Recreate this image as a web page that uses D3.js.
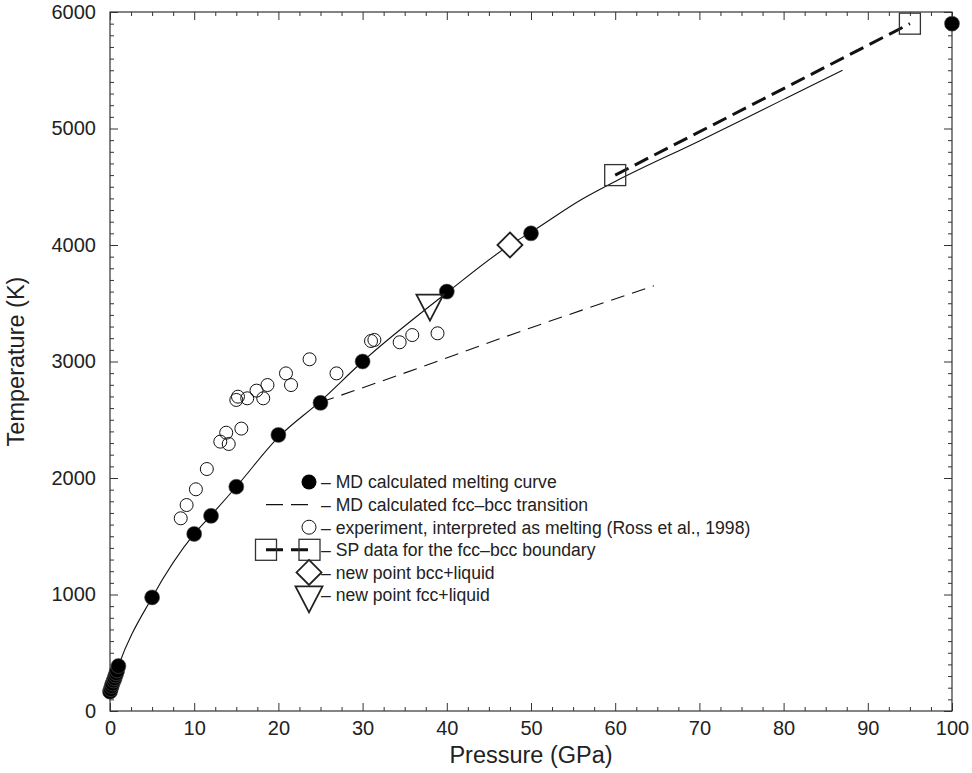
<!DOCTYPE html>
<html>
<head>
<meta charset="utf-8">
<script src="https://cdn.jsdelivr.net/npm/d3@7/dist/d3.min.js"></script>
<style>
    body { margin: 0; background: #fff; }
    svg text { font-family: "Liberation Sans", Arial, Helvetica, sans-serif; fill: #222; }
</style>
</head>
<body>
<div id="chart"></div>
<script>

// MD calculated melting points [pressure GPa, temperature K]
const mdPressure = [0, 0.1, 0.2, 0.3, 0.45, 0.55, 0.65, 0.75, 0.85, 1.0, 5, 10, 12, 15, 20, 25, 30, 40, 50, 100];
const mdTemp = [166, 188, 214, 236, 262, 282, 305, 325, 348, 386, 975, 1520, 1675, 1925, 2370, 2645, 3000, 3600, 4100, 5900];

// melting curve line
const curvePressure = [0, 0.5, 1, 5, 10, 12, 15, 20, 25, 30, 40, 47.5, 50, 56, 60, 70, 80, 87];
const curveTemp = [160, 280, 386, 975, 1520, 1680, 1925, 2350, 2660, 3000, 3590, 4000, 4110, 4390, 4545, 4893, 5250, 5500];

// MD fcc-bcc transition (thin dashed line)
const fccBccPressure = [25, 32, 50, 64.6];
const fccBccTemp = [2650, 2825, 3290, 3650];

// experiment, Ross et al. 1998 (open circles)
const expPressure = [8.4, 9.1, 10.2, 11.5, 13.1, 14.1, 13.8, 15.6, 15.0, 15.2, 16.3, 17.4, 18.2, 18.7, 20.9, 21.5, 23.7, 26.9, 31.0, 31.4, 34.4, 35.9, 38.9];
const expTemp = [1654, 1768, 1903, 2077, 2312, 2292, 2389, 2424, 2670, 2698, 2684, 2750, 2684, 2798, 2898, 2798, 3019, 2898, 3176, 3185, 3165, 3227, 3242];

// SP data for the fcc-bcc boundary
const spPressure = [60, 95];
const spTemp = [4600, 5900];

// new points
const bccLiquidPoint = [47.5, 4000];
const fccLiquidPoint = [38, 3500];

const xTickValues = [0, 10, 20, 30, 40, 50, 60, 70, 80, 90, 100];
const yTickValues = [0, 1000, 2000, 3000, 4000, 5000, 6000];

const legendLabels = [
    "\u2013 MD calculated melting curve",
    "\u2013 MD calculated fcc\u2013bcc transition",
    "\u2013 experiment, interpreted as melting (Ross et al., 1998)",
    "\u2013 SP data for the fcc\u2013bcc boundary",
    "\u2013 new point bcc+liquid",
    "\u2013 new point fcc+liquid"
];

const zipPts = (xs, ys) => xs.map((x, i) => ({p: x, t: ys[i]}));


class MeltingVis {
    constructor(parentElement) {
        this.parentElement = parentElement;
        this.initVis();
    }

    initVis() {
        let vis = this;

        vis.margin = {top: 12, right: 20, bottom: 62, left: 110};
        vis.width = 972 - vis.margin.left - vis.margin.right;
        vis.height = 773 - vis.margin.top - vis.margin.bottom;

        vis.root = d3.select("#" + vis.parentElement).append("svg")
            .attr("width", 972)
            .attr("height", 773);

        vis.svg = vis.root.append("g")
            .attr("transform", `translate(${vis.margin.left}, ${vis.margin.top})`);

        vis.x = d3.scaleLinear().domain([0, 100]).range([0, vis.width]);
        vis.y = d3.scaleLinear().domain([0, 6000]).range([vis.height, 0]);

        vis.drawAxes();
        vis.updateVis();
        vis.drawLegend();
    }

    drawAxes() {
        let vis = this;
        let minorX = d3.range(0, 100.1, 2.5).filter(d => d % 10 !== 0);
        let minorY = d3.range(0, 6001, 100).filter(d => d % 1000 !== 0);
        let fmt = d3.format("d");

        const styleAxis = g => {
            g.select(".domain").remove();
            g.selectAll(".tick line").attr("stroke", "#333").attr("stroke-width", 1);
        };

        // bottom: labels + major ticks
        vis.svg.append("g")
            .attr("transform", `translate(0, ${vis.height})`)
            .call(d3.axisBottom(vis.x).tickValues(xTickValues).tickSize(-8).tickPadding(10).tickFormat(fmt))
            .call(styleAxis)
            .selectAll("text").attr("font-size", 20);
        vis.svg.append("g")
            .attr("transform", `translate(0, ${vis.height})`)
            .call(d3.axisBottom(vis.x).tickValues(minorX).tickSize(-4).tickFormat(""))
            .call(styleAxis);

        // top
        vis.svg.append("g")
            .call(d3.axisTop(vis.x).tickValues(xTickValues).tickSize(-8).tickFormat(""))
            .call(styleAxis);
        vis.svg.append("g")
            .call(d3.axisTop(vis.x).tickValues(minorX).tickSize(-4).tickFormat(""))
            .call(styleAxis);

        // left: labels + ticks
        vis.svg.append("g")
            .call(d3.axisLeft(vis.y).tickValues(yTickValues).tickSize(-8).tickPadding(14).tickFormat(fmt))
            .call(styleAxis)
            .selectAll("text").attr("font-size", 20);
        vis.svg.append("g")
            .call(d3.axisLeft(vis.y).tickValues(minorY).tickSize(-4).tickFormat(""))
            .call(styleAxis);

        // right
        vis.svg.append("g")
            .attr("transform", `translate(${vis.width}, 0)`)
            .call(d3.axisRight(vis.y).tickValues(yTickValues).tickSize(-8).tickFormat(""))
            .call(styleAxis);
        vis.svg.append("g")
            .attr("transform", `translate(${vis.width}, 0)`)
            .call(d3.axisRight(vis.y).tickValues(minorY).tickSize(-4).tickFormat(""))
            .call(styleAxis);

        // frame
        vis.svg.append("rect")
            .attr("width", vis.width)
            .attr("height", vis.height)
            .attr("fill", "none")
            .attr("stroke", "#333")
            .attr("stroke-width", 1.2);

        // axis titles
        vis.svg.append("text")
            .attr("x", vis.width / 2)
            .attr("y", vis.height + 52)
            .attr("text-anchor", "middle")
            .attr("font-size", 23.5)
            .text("Pressure (GPa)");

        vis.svg.append("text")
            .attr("transform", `translate(${-86}, ${vis.height / 2}) rotate(-90)`)
            .attr("text-anchor", "middle")
            .attr("font-size", 23.5)
            .text("Temperature (K)");
    }

    updateVis() {
        let vis = this;

        let line = d3.line()
            .x(d => vis.x(d.p))
            .y(d => vis.y(d.t));

        // melting curve
        vis.svg.append("path")
            .datum(zipPts(curvePressure, curveTemp))
            .attr("d", line.curve(d3.curveMonotoneX))
            .attr("fill", "none")
            .attr("stroke", "#111")
            .attr("stroke-width", 1.1);

        // fcc-bcc transition
        vis.svg.append("path")
            .datum(zipPts(fccBccPressure, fccBccTemp))
            .attr("d", line.curve(d3.curveMonotoneX))
            .attr("fill", "none")
            .attr("stroke", "#111")
            .attr("stroke-width", 1.1)
            .attr("stroke-dasharray", "14,8");

        // SP boundary
        vis.svg.append("path")
            .datum(zipPts(spPressure, spTemp))
            .attr("d", line.curve(d3.curveLinear))
            .attr("fill", "none")
            .attr("stroke", "#111")
            .attr("stroke-width", 3)
            .attr("stroke-dasharray", "15,7");

        vis.svg.selectAll(".sp-square")
            .data(zipPts(spPressure, spTemp))
            .enter().append("rect")
            .attr("class", "sp-square")
            .attr("x", d => vis.x(d.p) - 10.5)
            .attr("y", d => vis.y(d.t) - 10.5)
            .attr("width", 21)
            .attr("height", 21)
            .attr("fill", "none")
            .attr("stroke", "#333")
            .attr("stroke-width", 1.3);

        // experiment circles
        vis.svg.selectAll(".exp")
            .data(zipPts(expPressure, expTemp))
            .enter().append("circle")
            .attr("class", "exp")
            .attr("cx", d => vis.x(d.p))
            .attr("cy", d => vis.y(d.t))
            .attr("r", 6.5)
            .attr("fill", "none")
            .attr("stroke", "#111")
            .attr("stroke-width", 1);

        // MD points
        vis.svg.selectAll(".md")
            .data(zipPts(mdPressure, mdTemp))
            .enter().append("circle")
            .attr("class", "md")
            .attr("cx", d => vis.x(d.p))
            .attr("cy", d => vis.y(d.t))
            .attr("r", 7.5)
            .attr("fill", "#000")
            .attr("stroke", "#555")
            .attr("stroke-width", 0.6);

        // new points
        vis.svg.append("path")
            .attr("d", vis.diamondPath(vis.x(bccLiquidPoint[0]), vis.y(bccLiquidPoint[1]), 12.5))
            .attr("fill", "#fff")
            .attr("stroke", "#222")
            .attr("stroke-width", 1.8);

        vis.svg.append("path")
            .attr("d", vis.trianglePath(vis.x(fccLiquidPoint[0]), vis.y(fccLiquidPoint[1])))
            .attr("fill", "none")
            .attr("stroke", "#222")
            .attr("stroke-width", 1.8);
    }

    diamondPath(cx, cy, r) {
        return `M${cx},${cy - r}L${cx + r},${cy}L${cx},${cy + r}L${cx - r},${cy}Z`;
    }

    trianglePath(cx, cy) {
        // downward triangle, centroid at (cx, cy)
        let w = 27, h = 26;
        return `M${cx - w / 2},${cy - h / 3}L${cx + w / 2},${cy - h / 3}L${cx},${cy + 2 * h / 3}Z`;
    }

    drawLegend() {
        let vis = this;
        let g = vis.root.append("g");
        let rowY = legendLabels.map((d, i) => 482 + i * 22.6);
        let mx = 309;

        g.selectAll(".legend-text")
            .data(legendLabels)
            .enter().append("text")
            .attr("class", "legend-text")
            .attr("x", 321)
            .attr("y", (d, i) => rowY[i])
            .attr("dy", "0.36em")
            .attr("font-size", 17.6)
            .text(d => d);

        // filled circle
        g.append("circle").attr("cx", mx).attr("cy", rowY[0]).attr("r", 7.5).attr("fill", "#000");

        // thin dashes
        g.append("line")
            .attr("x1", 266).attr("x2", 308)
            .attr("y1", rowY[1]).attr("y2", rowY[1])
            .attr("stroke", "#111").attr("stroke-width", 1.1)
            .attr("stroke-dasharray", "17,8");

        // open circle
        g.append("circle").attr("cx", mx).attr("cy", rowY[2]).attr("r", 7)
            .attr("fill", "none").attr("stroke", "#111").attr("stroke-width", 1);

        // SP squares with thick dashes
        g.append("line")
            .attr("x1", 266).attr("x2", 309)
            .attr("y1", rowY[3]).attr("y2", rowY[3])
            .attr("stroke", "#111").attr("stroke-width", 3)
            .attr("stroke-dasharray", "17,8");
        [266, 309.5].forEach(cx => {
            g.append("rect")
                .attr("x", cx - 10.5).attr("y", rowY[3] - 10.5)
                .attr("width", 21).attr("height", 21)
                .attr("fill", "none").attr("stroke", "#333").attr("stroke-width", 1.3);
        });

        // diamond
        g.append("path")
            .attr("d", vis.diamondPath(mx, rowY[4], 12.5))
            .attr("fill", "none").attr("stroke", "#222").attr("stroke-width", 1.8);

        // triangle
        g.append("path")
            .attr("d", vis.trianglePath(mx, rowY[5]))
            .attr("fill", "none").attr("stroke", "#222").attr("stroke-width", 1.8);
    }
}

new MeltingVis("chart");
</script>
</body>
</html>
